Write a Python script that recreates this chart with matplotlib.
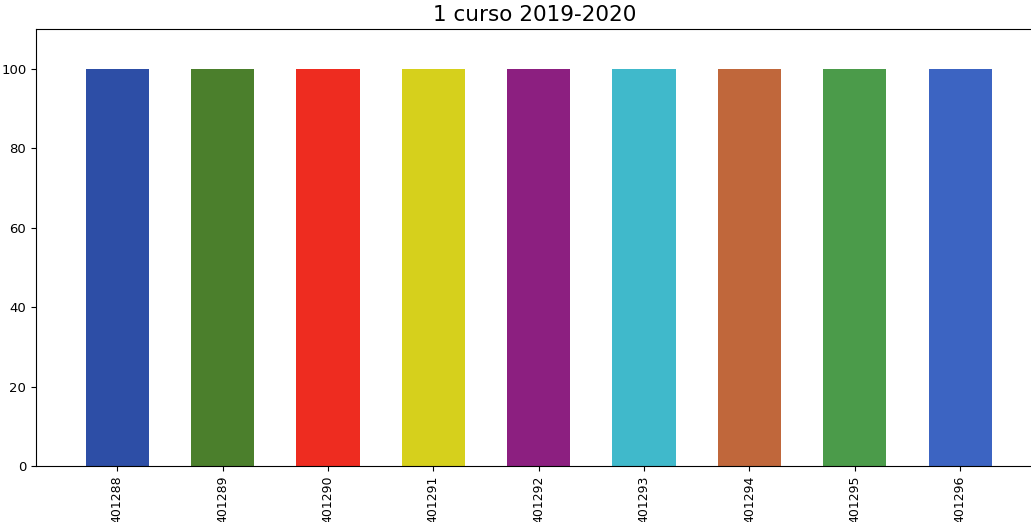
import matplotlib.pyplot as plt

# Alumnos del 1 curso 2019-2020 (porcentaje)
codigos = ["401288", "401289", "401290", "401291", "401292",
           "401293", "401294", "401295", "401296"]
valores = [100, 100, 100, 100, 100, 100, 100, 100, 100]
colores = ["#2d4ea6", "#4b7f2c", "#ee2c20", "#d6d01c", "#8c1f80",
           "#40b9cb", "#c0673b", "#4b9b4a", "#3c64c2"]

fig = plt.figure(figsize=(10.31, 5.22), dpi=100)
ax = fig.add_axes([0.035, 0.107, 0.975, 0.837])

x = range(len(codigos))
ax.bar(x, valores, width=0.6, color=colores)
ax.set_xticks(list(x))
ax.set_xticklabels(codigos, rotation=90, fontsize=9)
ax.set_xlim(-0.77, len(codigos) - 1 + 0.77)
ax.set_ylim(0, 110)
ax.set_yticks([0, 20, 40, 60, 80, 100])
ax.tick_params(axis="y", labelsize=9.5)
ax.set_title("1 curso 2019-2020", fontsize=15.5, x=0.496)

fig.savefig("out.png", dpi=100)
